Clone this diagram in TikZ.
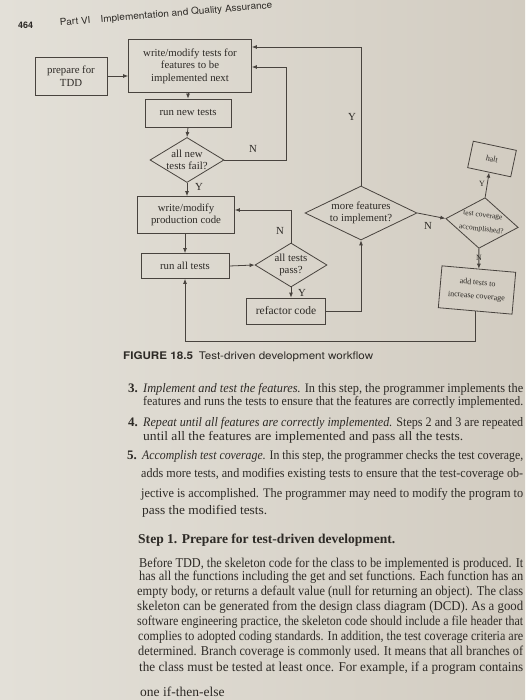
\documentclass[tikz,border=0pt]{standalone}
\usepackage{fontspec}
\setmainfont{Liberation Serif}
\newfontfamily\hsans{TeX Gyre Heros}
\usepackage{graphicx}
\usetikzlibrary{shapes.geometric,arrows.meta,calc}
\definecolor{paperL}{RGB}{227,224,216}
\definecolor{paperR}{RGB}{210,204,193}
\definecolor{ink}{RGB}{45,42,38}
\definecolor{lineink}{RGB}{72,67,62}
\newcommand\dgfont{\fontsize{10.8}{12.5}\selectfont}
\newcommand\smfont{\fontsize{8}{9.5}\selectfont}
\newcommand\bdfont{\fontsize{13}{14}\selectfont}
\newcommand\bdfontb{\fontsize{13.5}{15}\selectfont}
\newcommand\fitw[2]{\resizebox{#1}{\height}{#2}}
\tikzset{
  box/.style={draw=lineink, line width=0.8pt, inner sep=0pt, align=center, font=\dgfont, text=ink},
  dia/.style={diamond, draw=lineink, line width=0.8pt, inner sep=-12pt, align=center, font=\dgfont, text=ink},
  arr/.style={draw=lineink, line width=0.8pt, -{Latex[length=5pt,width=4pt]}},
  lbl/.style={font=\dgfont, text=ink, inner sep=0pt},
  bodytxt/.style={anchor=base west, inner sep=0pt, text=ink, font=\bdfont},
  bodytxtb/.style={anchor=base west, inner sep=0pt, text=ink, font=\bdfontb},
}
\begin{document}
\begin{tikzpicture}[x=1pt,y=-1pt]
\useasboundingbox (0,0) rectangle (525,700);
\shade[left color=paperL, right color=paperR] (0,0) rectangle (525,700);

% header
\node[anchor=base west, inner sep=0pt, text=ink, font=\hsans\bfseries\fontsize{9}{10}\selectfont] (pg) at (18,29) {464};
\node[anchor=base west, inner sep=0pt, text=ink, font=\hsans\fontsize{9.5}{10}\selectfont, rotate=4.8] (hd) at (60,26) {\fitw{213pt}{Part VI\quad Implementation and Quality Assurance}};

% diagram nodes
\node[box, minimum width=72pt, minimum height=38pt] (prep) at (71,76) {prepare for\\TDD};
\node[box, minimum width=123pt, minimum height=53pt] (wtests) at (190,66) {write/modify tests for\\features to be\\implemented next};
\node[box, minimum width=86pt, minimum height=28pt] (runnew) at (188,113) {run new tests};
\node[dia, minimum width=74pt, minimum height=45pt] (d1) at (187,160) {all new\\tests fail?};
\node[box, minimum width=97pt, minimum height=37pt] (wprod) at (186,215) {write/modify\\production code};
\node[box, minimum width=88pt, minimum height=25pt] (runall) at (185,266) {run all tests};
\node[dia, minimum width=72pt, minimum height=44pt] (d2) at (291,265) {all tests\\pass?};
\node[box, minimum width=79pt, minimum height=26pt, font=\fontsize{11.5}{13}\selectfont] (refac) at (286,311) {refactor code};
\node[dia, minimum width=112pt, minimum height=54pt] (d3) at (361,213) {more features\\to implement?};
\node[dia, minimum width=73pt, minimum height=51pt, rotate=-7, font=\fontsize{7.5}{9}\selectfont, inner sep=-16pt] (d4) at (482,223) {test coverage\\[5pt]accomplished?};
\node[box, minimum width=44pt, minimum height=27pt, font=\smfont, rotate=-12] (halt) at (492,159) {halt};
\node[box, minimum width=74pt, minimum height=42pt, font=\smfont, rotate=-5] (addt) at (477,290) {add tests to\\[4pt]increase coverage};

% connectors
\draw[arr] (prep.east) -- (wtests.west |- prep.east);
\draw[arr] (wtests.south -| runnew.north) -- (runnew.north);
\draw[arr] (runnew.south) -- (d1.north);
\draw[arr] (d1.south) -- (wprod.north -| d1.south);
\draw[arr] (d1.east) -- ++(62,0) |- ($(wtests.east)+(0,1)$);
\draw[arr] (d3.north) |- ($(wtests.east)+(0,-19)$);
\draw[arr] (wprod.south -| runall.north) -- (runall.north);
\draw[arr] (runall.east) -- (d2.west);
\draw[arr] (d2.north) |- ($(wprod.east)+(0,-5)$);
\draw[arr] (d2.south) -- (refac.north -| d2.south);
\draw[arr] (refac.east) -| (d3.south);
\draw[arr] (d3.east) -- (d4.west);
\draw[arr] (d4.north) -- (halt.south);
\draw[arr] (d4.south) -- (addt.north);
\draw[arr] (addt.south) -- ++(0,30) -| (runall.south);

% labels
\node[lbl] (lN1) at (253,149) {N};
\node[lbl] (lY1) at (199,187) {Y};
\node[lbl] (lY3) at (352,117) {Y};
\node[lbl] (lN2) at (280,231) {N};
\node[lbl] (lY2) at (302,293) {Y};
\node[lbl] (lN3) at (428,226) {N};
\node[lbl, font=\smfont] (lY4) at (482,184) {Y};
\node[lbl, font=\smfont] (lN4) at (479,258) {N};

% caption
\node[anchor=base west, inner sep=0pt, text=ink, font=\hsans\fontsize{10.5}{12}\selectfont] (cap) at (123,359) {\fitw{250pt}{\textbf{FIGURE 18.5}\enspace Test-driven development workflow}};

% body text
\node[bodytxt, font=\bdfont\bfseries] (n3) at (128,392) {3.};
\node[bodytxt] (b1) at (143,392) {\fitw{380pt}{\textit{Implement and test the features.} In this step, the programmer implements the}};
\node[bodytxt] (b2) at (143,405) {\fitw{380pt}{features and runs the tests to ensure that the features are correctly implemented.}};
\node[bodytxt, font=\bdfont\bfseries] (n4) at (128,426) {4.};
\node[bodytxt] (b3) at (143,426) {\fitw{380pt}{\textit{Repeat until all features are correctly implemented.} Steps 2 and 3 are repeated}};
\node[bodytxt] (b4) at (143,440) {\fitw{320pt}{until all the features are implemented and pass all the tests.}};
\node[bodytxt, font=\bdfont\bfseries] (n5) at (127,459) {5.};
\node[bodytxt] (b5) at (142,459) {\fitw{381pt}{\textit{Accomplish test coverage.} In this step, the programmer checks the test coverage,}};
\node[bodytxt] (b6) at (141,477) {\fitw{382pt}{adds more tests, and modifies existing tests to ensure that the test-coverage ob-}};
\node[bodytxt] (b7) at (141,497) {\fitw{382pt}{jective is accomplished. The programmer may need to modify the program to}};
\node[bodytxt] (b8) at (142,514) {\fitw{125pt}{pass the modified tests.}};
\node[bodytxtb, font=\bdfontb\bfseries] (st1) at (138,543) {\fitw{257pt}{Step 1. Prepare for test-driven development.}};
\node[bodytxtb] (c1) at (139,567) {\fitw{384pt}{Before TDD, the skeleton code for the class to be implemented is produced. It}};
\node[bodytxtb] (c2) at (139,580) {\fitw{384pt}{has all the functions including the get and set functions. Each function has an}};
\node[bodytxtb] (c3) at (137,595) {\fitw{386pt}{empty body, or returns a default value (null for returning an object). The class}};
\node[bodytxtb] (c4) at (137,610) {\fitw{386pt}{skeleton can be generated from the design class diagram (DCD). As a good}};
\node[bodytxtb] (c5) at (137,625) {\fitw{386pt}{software engineering practice, the skeleton code should include a file header that}};
\node[bodytxtb] (c6) at (138,640) {\fitw{385pt}{complies to adopted coding standards. In addition, the test coverage criteria are}};
\node[bodytxtb] (c7) at (138,655) {\fitw{385pt}{determined. Branch coverage is commonly used. It means that all branches of}};
\node[bodytxtb] (c8) at (139,671) {\fitw{384pt}{the class must be tested at least once. For example, if a program contains}};
\node[bodytxtb] (c9) at (140,696) {one if-then-else};
\end{tikzpicture}
\end{document}
